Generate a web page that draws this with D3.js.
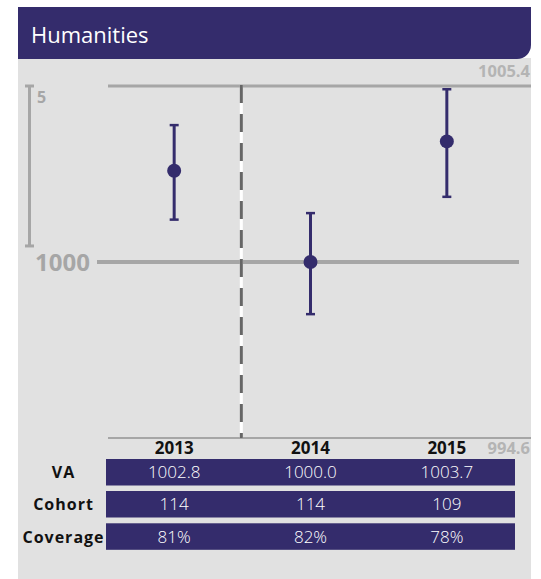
<!DOCTYPE html>
<html>
<head>
<meta charset="utf-8">
<script src="https://cdn.jsdelivr.net/npm/d3@7"></script>
<style>
  html, body { margin: 0; padding: 0; background: #ffffff; }
  svg { display: block; font-family: "Open Sans", sans-serif; }
</style>
</head>
<body>
<svg id="chart" width="541" height="579"></svg>
<script>
const title = "Humanities";
const years = ["2013", "2014", "2015"];
const va = [1002.8, 1000.0, 1003.7];
const ciLow = [1001.3, 998.4, 1002.0];
const ciHigh = [1004.2, 1001.5, 1005.3];
const cohort = [114, 114, 109];
const coverage = ["81%", "82%", "78%"];
const vaLabels = ["1002.8", "1000.0", "1003.7"];
const yDomain = [994.6, 1005.4];
const yMinLabel = "994.6";
const yMaxLabel = "1005.4";
const refValue = 1000;
const scaleBarValue = 5;
const rowLabels = ["VA", "Cohort", "Coverage"];

const navy = "#342c6c";
const grey = "#a6a6a6";
const panel = "#e1e1e1";

const svg = d3.select("#chart");

// panel
svg.append("rect").attr("x", 18).attr("y", 58).attr("width", 513).attr("height", 521).attr("fill", panel);

// header with rounded bottom-right corner
const hx0 = 18, hx1 = 531, hy0 = 7, hy1 = 59, r = 14;
svg.append("path")
  .attr("d", `M${hx0},${hy0}H${hx1}V${hy1 - r}A${r},${r} 0 0 1 ${hx1 - r},${hy1}H${hx0}Z`)
  .attr("fill", navy);
svg.append("text").attr("x", 31).attr("y", 43).attr("fill", "#ffffff")
  .attr("font-size", 22).text(title);

const x = d3.scaleBand().domain(years).range([106, 515]).padding(0);
const cx = d => x(d) + x.bandwidth() / 2;
const y = d3.scaleLinear().domain(yDomain).range([438, 86]);

// top line
svg.append("line").attr("x1", 108).attr("x2", 531)
  .attr("y1", y(yDomain[1])).attr("y2", y(yDomain[1]))
  .attr("stroke", grey).attr("stroke-width", 3);
// bottom line
svg.append("line").attr("x1", 108).attr("x2", 531)
  .attr("y1", y(yDomain[0])).attr("y2", y(yDomain[0]))
  .attr("stroke", grey).attr("stroke-width", 2);

// reference line
svg.append("line").attr("x1", 97).attr("x2", 519)
  .attr("y1", y(refValue)).attr("y2", y(refValue))
  .attr("stroke", grey).attr("stroke-width", 4);
svg.append("text").attr("x", 90).attr("y", y(refValue) + 8.5).attr("text-anchor", "end")
  .attr("font-size", 24).attr("font-weight", 700).attr("fill", grey).text(String(refValue));

// scale bar
const sbx = 29.5;
const sbTop = y(yDomain[1]), sbBot = y(yDomain[1] - scaleBarValue) - 3;
svg.append("line").attr("x1", sbx).attr("x2", sbx).attr("y1", sbTop).attr("y2", sbBot)
  .attr("stroke", grey).attr("stroke-width", 3);
[sbTop, sbBot].forEach(v => {
  svg.append("line").attr("x1", sbx - 4.5).attr("x2", sbx + 4.5).attr("y1", v).attr("y2", v)
    .attr("stroke", grey).attr("stroke-width", 3);
});
svg.append("text").attr("x", 37).attr("y", 103).attr("font-size", 16).attr("font-weight", 700)
  .attr("fill", grey).text(String(scaleBarValue));

// axis end labels
svg.append("text").attr("x", 530).attr("y", 77).attr("text-anchor", "end")
  .attr("font-size", 16.5).attr("font-weight", 700).attr("fill", "#b4b4b4").text(yMaxLabel);
svg.append("text").attr("x", 530).attr("y", 454).attr("text-anchor", "end")
  .attr("font-size", 16.5).attr("font-weight", 700).attr("fill", "#b4b4b4").text(yMinLabel);

// dashed divider
const dx = x("2014") - 1;
svg.append("line").attr("x1", dx).attr("x2", dx).attr("y1", y(yDomain[1]) - 1).attr("y2", y(yDomain[0]))
  .attr("stroke", "#ffffff").attr("stroke-width", 3);
svg.append("line").attr("x1", dx).attr("x2", dx).attr("y1", y(yDomain[1]) - 1).attr("y2", y(yDomain[0]))
  .attr("stroke", "#666666").attr("stroke-width", 3).attr("stroke-dasharray", "18,11");

// error bars and points
years.forEach((yr, i) => {
  const px = cx(yr);
  svg.append("line").attr("x1", px).attr("x2", px).attr("y1", y(ciHigh[i])).attr("y2", y(ciLow[i]))
    .attr("stroke", navy).attr("stroke-width", 3);
  [ciHigh[i], ciLow[i]].forEach(v => {
    svg.append("line").attr("x1", px - 4.5).attr("x2", px + 4.5).attr("y1", y(v)).attr("y2", y(v))
      .attr("stroke", navy).attr("stroke-width", 2.5);
  });
  svg.append("circle").attr("cx", px).attr("cy", y(va[i])).attr("r", 7).attr("fill", navy);
});

// year labels
svg.selectAll(".yr").data(years).enter().append("text")
  .attr("x", d => cx(d)).attr("y", 454).attr("text-anchor", "middle")
  .attr("font-size", 17).attr("font-weight", 700).attr("fill", "#111111").text(d => d);

// table
const rows = [vaLabels, cohort.map(String), coverage];
const rowTop = [459, 491, 523.3];
const rowH = 26.5;
rows.forEach((vals, ri) => {
  svg.append("rect").attr("x", x.range()[0]).attr("y", rowTop[ri])
    .attr("width", x.range()[1] - x.range()[0]).attr("height", rowH).attr("fill", navy);
  vals.forEach((v, ci) => {
    svg.append("text").attr("x", cx(years[ci])).attr("y", rowTop[ri] + rowH / 2 + 6)
      .attr("text-anchor", "middle").attr("font-size", 17).attr("font-weight", 300)
      .attr("fill", "#ffffff").text(v);
  });
  svg.append("text").attr("x", 63.5).attr("y", rowTop[ri] + rowH / 2 + 6)
    .attr("text-anchor", "middle").attr("font-size", 16).attr("font-weight", 700)
    .attr("letter-spacing", "1px").attr("fill", "#111111").text(rowLabels[ri]);
});
</script>
</body>
</html>
